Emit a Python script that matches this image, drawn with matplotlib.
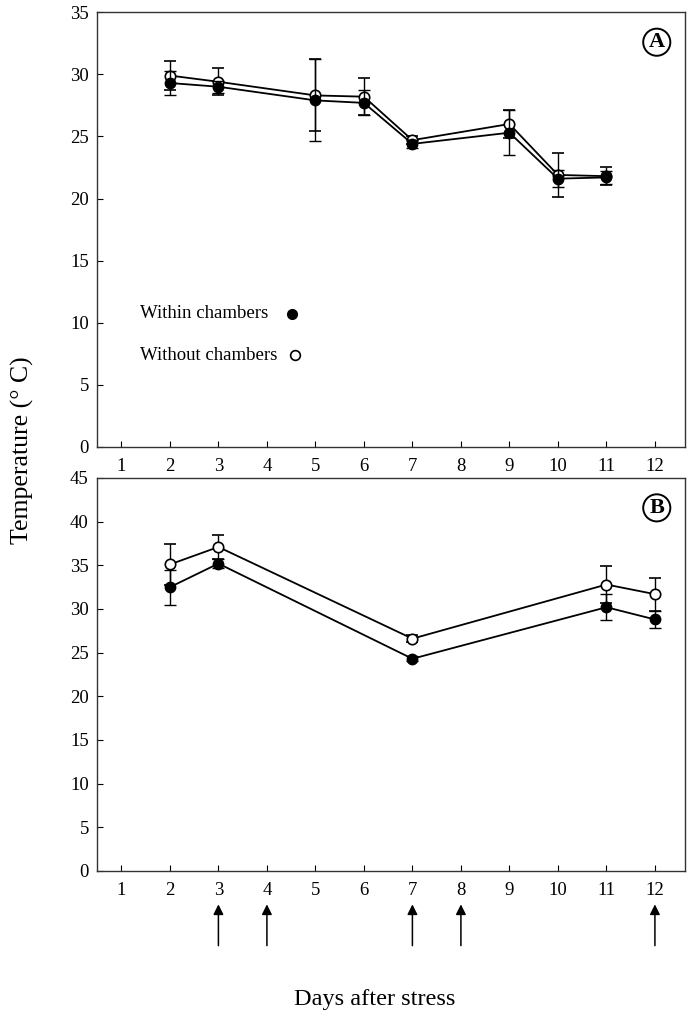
import matplotlib.pyplot as plt

plt.rcParams['font.family'] = ['Liberation Serif', 'DejaVu Serif']

# --- dados painel A ---
dias_a = [2, 3, 5, 6, 7, 9, 10, 11]
dentro_a = [29.3, 29.0, 27.9, 27.7, 24.4, 25.3, 21.6, 21.7]
dentro_a_err = [1.0, 0.5, 3.3, 1.0, 0.3, 1.8, 0.7, 0.5]
fora_a = [29.9, 29.4, 28.3, 28.2, 24.7, 26.0, 21.9, 21.8]
fora_a_err = [1.2, 1.1, 2.9, 1.5, 0.3, 1.1, 1.8, 0.7]

# --- dados painel B ---
dias_b = [2, 3, 7, 11, 12]
dentro_b = [32.5, 35.2, 24.3, 30.2, 28.8]
dentro_b_err = [2.0, 0.5, 0.3, 1.5, 1.0]
fora_b = [35.1, 37.1, 26.6, 32.8, 31.7]
fora_b_err = [2.3, 1.4, 0.4, 2.1, 1.9]

dias_estresse = [3, 4, 7, 8, 12]
dias_ticks = list(range(1, 13))

fig = plt.figure(figsize=(6.94, 10.17), dpi=100)
ax_a = fig.add_axes([0.140, 0.5605, 0.847, 0.4275])
ax_b = fig.add_axes([0.140, 0.1436, 0.847, 0.3864])


def desenhar(ax, dias, dentro, dentro_err, fora, fora_err):
    ax.errorbar(dias, fora, yerr=fora_err, color='black', lw=1.3, elinewidth=1.0,
                capsize=4, capthick=1.0, marker='o', ms=7.5, mfc='white', mec='black',
                mew=1.2, zorder=3)
    ax.errorbar(dias, dentro, yerr=dentro_err, color='black', lw=1.3, elinewidth=1.0,
                capsize=4, capthick=1.0, marker='o', ms=7.5, mfc='black', mec='black',
                zorder=4)
    ax.set_xlim(0.5, 12.62)
    ax.set_xticks(dias_ticks)
    ax.tick_params(direction='in', length=4, labelsize=13.5, top=False, right=False)
    ax.tick_params(axis='x', pad=8)
    ax.tick_params(axis='y', pad=6)
    for s in ax.spines.values():
        s.set_linewidth(1.0)
        s.set_color('#333333')


desenhar(ax_a, dias_a, dentro_a, dentro_a_err, fora_a, fora_a_err)
ax_a.set_ylim(0, 35)
ax_a.set_yticks(range(0, 36, 5))

desenhar(ax_b, dias_b, dentro_b, dentro_b_err, fora_b, fora_b_err)
ax_b.set_ylim(0, 45)
ax_b.set_yticks(range(0, 46, 5))

# letras dos paineis
for ax, letra, yy in [(ax_a, 'A', 0.931), (ax_b, 'B', 0.924)]:
    ax.text(0.952, yy, letra, transform=ax.transAxes, ha='center', va='center',
            fontsize=16, fontweight='bold',
            bbox=dict(boxstyle='circle,pad=0.16', fc='white', ec='black', lw=1.4))

# legenda (texto a esquerda, marcador depois)
ax_a.text(0.073, 0.306, 'Within chambers', transform=ax_a.transAxes, ha='left',
          va='center', fontsize=13.5)
ax_a.text(0.073, 0.211, 'Without chambers', transform=ax_a.transAxes, ha='left',
          va='center', fontsize=13.5)
ax_a.plot([0.332], [0.306], transform=ax_a.transAxes, ls='none', marker='o', ms=7,
          mfc='black', mec='black')
ax_a.plot([0.336], [0.211], transform=ax_a.transAxes, ls='none', marker='o', ms=7,
          mfc='white', mec='black', mew=1.2)

# setas dos dias de estresse
for d in dias_estresse:
    ax_b.annotate('', xy=(d, -0.085), xytext=(d, -0.19),
                  xycoords=('data', 'axes fraction'), textcoords=('data', 'axes fraction'),
                  arrowprops=dict(arrowstyle='-|>', color='black', lw=1.1,
                                  mutation_scale=15, shrinkA=0, shrinkB=0))

fig.text(0.032, 0.557, 'Temperature (° C)', rotation=90, ha='center', va='center',
         fontsize=18.5)
fig.text(0.54, 0.017, 'Days after stress', ha='center', va='center', fontsize=17.5)

plt.savefig('out.png', dpi=100)
